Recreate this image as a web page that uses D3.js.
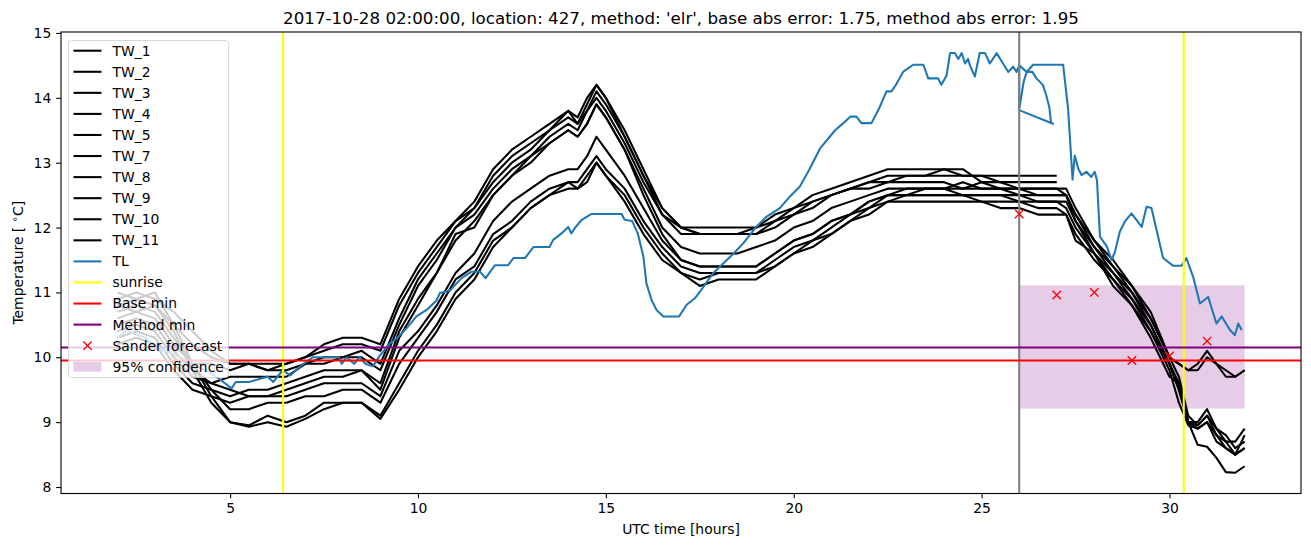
<!DOCTYPE html>
<html>
<head>
<meta charset="utf-8">
<script src="https://cdn.jsdelivr.net/npm/d3@7"></script>
<style>
  body { margin: 0; background: #fff; }
  text { font-family: "DejaVu Sans", sans-serif; }
</style>
</head>
<body>
<div id="chart"></div>
<script>
// ---- data ----
const hours = [2, 2.5, 3, 3.5, 4, 4.5, 5, 5.5, 6, 6.5, 7, 7.5, 8, 8.5, 9, 9.5, 10, 10.5, 11, 11.5,
  12, 12.5, 13, 13.5, 14, 14.25, 14.5, 14.75, 15, 15.5, 16, 16.5, 17, 17.5, 18, 18.5, 19, 19.5,
  20, 20.5, 21, 21.5, 22, 22.5, 23, 23.5, 24, 24.5, 25, 25.5, 26, 26.5, 27, 27.25, 27.5,
  28, 28.5, 29, 29.5, 30, 30.25, 30.5, 30.75, 31, 31.25, 31.5, 31.75, 32]

const tw1 = [10.9, 11.0, 10.9, 10.7, 10.4, 10.1, 9.9, 9.9, 9.9, 9.9, 10.0, 10.2, 10.3, 10.3, 10.2,
  10.9, 11.4, 11.8, 12.1, 12.4, 12.9, 13.2, 13.4, 13.6, 13.8, 13.7, 14.0, 14.2, 14.0,
  13.5, 12.9, 12.3, 12.0, 12.0, 12.0, 12.0, 12.0, 12.2, 12.3, 12.5, 12.6, 12.7, 12.8, 12.9,
  12.9, 12.9, 12.9, 12.8, 12.8, 12.8, 12.8, 12.8, 12.8]
const tw2 = [10.8, 10.9, 10.8, 10.5, 10.2, 10.0, 9.9, 9.9, 9.8, 9.9, 10.0, 10.1, 10.2, 10.2, 10.1,
  10.8, 11.3, 11.7, 12.1, 12.3, 12.8, 13.1, 13.3, 13.5, 13.8, 13.6, 13.9, 14.2, 14.0,
  13.4, 12.8, 12.3, 12.0, 11.9, 11.9, 11.9, 12.0, 12.1, 12.3, 12.4, 12.5, 12.6, 12.7, 12.8,
  12.8, 12.8, 12.9, 12.9, 12.7, 12.7, 12.7, 12.7, 12.7]
const tw3 = [10.6, 10.7, 10.6, 10.2, 9.9, 9.9, 9.8, 9.9, 9.8, 9.8, 9.9, 10.0, 10.0, 10.1, 9.9,
  10.6, 11.2, 11.6, 12.0, 12.3, 12.7, 13.0, 13.2, 13.5, 13.7, 13.6, 13.8, 14.1, 13.9,
  13.4, 12.8, 12.2, 12.0, 11.9, 11.9, 11.9, 11.9, 12.1, 12.2, 12.4, 12.5, 12.6, 12.7, 12.7,
  12.8, 12.8, 12.8, 12.8, 12.8, 12.7, 12.6, 12.6, 12.6, 12.6, 12.3,
  11.8, 11.5, 11.1, 10.7, 10.0, 9.9, 9.8, 9.9, 10.1, 9.9, 9.8, 9.7, 9.8]
const tw4 = [10.4, 10.5, 10.4, 10.0, 9.7, 9.6, 9.7, 9.7, 9.7, 9.7, 9.9, 9.9, 10.0, 10.0, 9.8,
  10.5, 11.1, 11.5, 12.0, 12.2, 12.6, 12.9, 13.1, 13.4, 13.6, 13.5, 13.8, 14.0, 13.8,
  13.3, 12.7, 12.2, 11.9, 11.9, 11.9, 11.9, 11.9, 12.0, 12.2, 12.3, 12.5, 12.6, 12.6, 12.7,
  12.7, 12.7, 12.7, 12.6, 12.7, 12.6, 12.6, 12.5, 12.5, 12.5, 12.2,
  11.8, 11.4, 11.0, 10.6, 10.0, 9.9, 9.8, 9.8, 10.0, 9.9, 9.7, 9.7, 9.8]
const tw5 = [10.3, 10.4, 10.3, 9.9, 9.6, 9.5, 9.4, 9.5, 9.5, 9.6, 9.7, 9.8, 9.8, 9.8, 9.6,
  10.4, 10.9, 11.3, 11.8, 12.1, 12.5, 12.8, 13.1, 13.3, 13.5, 13.4, 13.6, 13.9, 13.7,
  13.2, 12.6, 12.0, 11.7, 11.6, 11.6, 11.6, 11.7, 11.8, 12.0, 12.1, 12.3, 12.4, 12.5, 12.6,
  12.6, 12.6, 12.6, 12.6, 12.6, 12.6, 12.5, 12.5, 12.5, 12.5, 12.2,
  11.7, 11.4, 11.1, 10.6, 10.0, 9.7, 9.1, 8.95, 9.1, 8.9, 8.7, 8.7, 8.9]
const tw7 = [10.2, 10.3, 10.2, 9.8, 9.5, 9.4, 9.3, 9.4, 9.4, 9.5, 9.6, 9.7, 9.7, 9.8, 9.5,
  10.3, 10.8, 11.3, 11.9, 12.0, 12.5, 12.8, 13.0, 13.3, 13.5, 13.4, 13.6, 13.9, 13.7,
  13.2, 12.5, 11.9, 11.5, 11.4, 11.4, 11.4, 11.4, 11.6, 11.8, 11.9, 12.1, 12.2, 12.4, 12.5,
  12.6, 12.6, 12.6, 12.7, 12.6, 12.6, 12.6, 12.6, 12.6, 12.5, 12.1,
  11.7, 11.3, 11.0, 10.5, 9.9, 9.6, 9.0, 8.9, 9.0, 8.8, 8.6, 8.5, 8.6]
const tw8 = [10.5, 10.6, 10.5, 10.1, 9.8, 9.6, 9.5, 9.4, 9.4, 9.4, 9.5, 9.6, 9.6, 9.6, 9.4,
  10.1, 10.4, 10.8, 11.3, 11.6, 12.1, 12.4, 12.6, 12.8, 12.9, 12.9, 13.1, 13.4, 13.2,
  12.8, 12.3, 11.8, 11.5, 11.4, 11.4, 11.4, 11.4, 11.6, 11.8, 11.9, 12.1, 12.2, 12.4, 12.5,
  12.5, 12.5, 12.5, 12.5, 12.5, 12.5, 12.5, 12.4, 12.4, 12.4, 12.1,
  11.6, 11.3, 10.9, 10.5, 9.9, 9.5, 9.0, 9.0, 9.2, 8.9, 8.8, 8.6, 8.7]
const tw9 = [10.7, 10.8, 10.7, 10.3, 9.9, 9.5, 9.2, 9.2, 9.3, 9.3, 9.4, 9.4, 9.5, 9.5, 9.3,
  9.9, 10.3, 10.7, 11.2, 11.4, 11.9, 12.1, 12.4, 12.6, 12.7, 12.7, 12.9, 13.1, 12.9,
  12.6, 12.1, 11.7, 11.4, 11.3, 11.3, 11.3, 11.3, 11.5, 11.7, 11.8, 12.0, 12.2, 12.3, 12.5,
  12.5, 12.6, 12.6, 12.5, 12.5, 12.5, 12.4, 12.4, 12.4, 12.3, 12.0,
  11.6, 11.2, 10.9, 10.4, 9.9, 9.5, 9.0, 8.95, 9.1, 8.8, 8.7, 8.5, 8.6]
const tw10 = [11.0, 10.9, 11.0, 10.5, 9.9, 9.4, 9.0, 8.95, 9.1, 9.0, 9.1, 9.3, 9.3, 9.3, 9.1,
  9.6, 10.1, 10.5, 11.0, 11.3, 11.8, 12.0, 12.3, 12.5, 12.7, 12.6, 12.8, 13.0, 12.8,
  12.5, 12.0, 11.6, 11.3, 11.2, 11.3, 11.3, 11.3, 11.4, 11.6, 11.8, 11.9, 12.1, 12.3, 12.4,
  12.5, 12.5, 12.5, 12.5, 12.4, 12.4, 12.4, 12.3, 12.3, 12.2, 11.9,
  11.5, 11.2, 10.8, 10.4, 9.8, 9.3, 8.95, 8.9, 9.0, 8.7, 8.6, 8.5, 8.8]
const tw11 = [10.8, 10.7, 10.8, 10.4, 9.8, 9.3, 9.0, 8.93, 9.0, 8.93, 9.05, 9.2, 9.3, 9.3, 9.05,
  9.5, 10.0, 10.4, 10.9, 11.2, 11.7, 12.0, 12.3, 12.5, 12.6, 12.6, 12.7, 13.0, 12.8,
  12.4, 11.9, 11.5, 11.3, 11.1, 11.2, 11.2, 11.2, 11.4, 11.6, 11.7, 11.9, 12.1, 12.2, 12.4,
  12.4, 12.4, 12.4, 12.4, 12.4, 12.3, 12.3, 12.2, 12.2, 12.2, 11.8,
  11.6, 11.1, 10.8, 10.3, 9.7, 9.6, 9.0, 8.65, 8.62, 8.45, 8.23, 8.22, 8.32]

const twNames = ["TW_1", "TW_2", "TW_3", "TW_4", "TW_5", "TW_7", "TW_8", "TW_9", "TW_10", "TW_11"]
const twTemps = [tw1, tw2, tw3, tw4, tw5, tw7, tw8, tw9, tw10, tw11]

// TL is logged at its own times (the record folds back on itself just after 26 h)
const tlHours = [2, 2.25, 2.5, 2.75, 3, 3.5, 4, 4.5, 4.75, 5.04, 5.15, 5.5, 6, 6.15, 6.4, 6.6, 6.75,
  6.95, 7.2, 7.9, 7.97, 8.1, 8.3, 8.45, 8.6, 8.8, 8.99, 9.25, 9.45, 9.7, 9.96, 10.23, 10.5, 10.58,
  10.85, 11.16, 11.43, 11.65, 11.8, 12.05, 12.4, 12.54, 12.85, 13.07, 13.5, 13.6, 13.82, 14, 14.08,
  14.2, 14.36, 14.62, 15.42, 15.5, 15.7, 15.85, 16, 16.08, 16.22, 16.35, 16.53, 16.95, 17.15, 17.37,
  17.6, 17.86, 18.13, 18.4, 18.66, 19, 19.28, 19.63, 19.9, 20.16, 20.43, 20.7, 20.96, 21.1, 21.32,
  21.5, 21.67, 21.8, 22.07, 22.29, 22.47, 22.6, 22.74, 22.91, 23.18, 23.45, 23.58, 23.84, 23.93,
  24.07, 24.16, 24.29, 24.38, 24.47, 24.56, 24.64, 24.69, 24.82, 24.95, 25.09, 25.22, 25.4, 25.57,
  25.71, 25.84, 25.93, 26, 26, 26.9, 26.85, 26.8, 26.72, 26.63, 26.46, 26.35, 26.2, 26.12, 26.05,
  26, 26, 26.2, 26.37, 27.17, 27.3, 27.36, 27.42, 27.48, 27.57, 27.66, 27.79, 27.92, 28.01, 28.07,
  28.15, 28.33, 28.46, 28.55, 28.68, 28.81, 28.99, 29.12, 29.26, 29.39, 29.52, 29.83, 30.1, 30.32,
  30.45, 30.63, 30.81, 31.03, 31.25, 31.39, 31.61, 31.74, 31.83, 31.92]
const tlTemp = [10.3, 10.42, 10.35, 10.3, 10.15, 10.05, 9.9, 9.75, 9.65, 9.52, 9.62, 9.62, 9.7, 9.62, 9.8, 9.72, 9.8,
  9.9, 10.0, 10.0, 9.9, 10.0, 9.9, 10.0, 9.9, 9.86, 10.03, 10.21, 10.3, 10.45, 10.63, 10.73, 10.88, 10.99,
  11.03, 11.22, 11.32, 11.32, 11.22, 11.42, 11.42, 11.53, 11.53, 11.7, 11.7, 11.81, 11.91, 12.01, 11.91,
  12.01, 12.12, 12.21, 12.21, 12.12, 12.1, 11.91, 11.55, 11.14, 10.88, 10.73, 10.63, 10.63, 10.81, 10.91,
  11.09, 11.3, 11.45, 11.6, 11.76, 12.01, 12.17, 12.3, 12.48, 12.63, 12.91, 13.22, 13.4, 13.5, 13.61,
  13.71, 13.71, 13.61, 13.61, 13.86, 14.1, 14.1, 14.22, 14.4, 14.51, 14.51, 14.3, 14.3, 14.2,
  14.35, 14.69, 14.69, 14.6, 14.69, 14.53, 14.6, 14.5, 14.33, 14.69, 14.69, 14.53, 14.69, 14.53,
  14.4, 14.48, 14.4, 14.5, 13.81, 13.6, 13.61, 13.86, 14.04, 14.2, 14.3, 14.4, 14.4, 14.25, 14.0,
  13.81, 14.5, 14.4, 14.51, 14.51, 13.84, 13.3, 12.74, 13.11, 12.91, 12.81, 12.86, 12.78, 12.86, 12.73,
  11.86, 11.71, 11.5, 11.63, 11.94, 12.09, 12.22, 12.12, 12.01, 12.32, 12.3, 11.53, 11.41, 11.41,
  11.53, 11.24, 10.83, 10.93, 10.52, 10.63, 10.42, 10.34, 10.52, 10.42]

const sunriseHours = [6.41, 30.38]
const forecastStart = 26
const baseMin = 9.95
const methodMin = 10.15
const forecastHours = [26, 27, 28, 29, 30, 31]
const forecastTemp = [12.21, 10.96, 11.0, 9.95, 10.02, 10.25]
const confidenceHours = [26, 32]
const confidenceTemp = [9.21, 11.11]

const xTicks = [5, 10, 15, 20, 25, 30]
const yTicks = [8, 9, 10, 11, 12, 13, 14, 15]

const title = "2017-10-28 02:00:00, location: 427, method: 'elr', base abs error: 1.75, method abs error: 1.95"

// ---- layout ----
const width = 1311, height = 547
const margin = { top: 32, right: 10, bottom: 53.5, left: 61 }
const plotW = width - margin.left - margin.right
const plotH = height - margin.top - margin.bottom
const lw = 2.08   // 1.5pt lines
const fontSize = 13.9

const svg = d3.select("#chart").append("svg")
  .attr("width", width)
  .attr("height", height)

const g = svg.append("g")
  .attr("transform", "translate(" + margin.left + "," + margin.top + ")")

const x = d3.scaleLinear().domain([0.5, 33.5]).range([0, plotW])
const y = d3.scaleLinear().domain([7.9, 15.015]).range([plotH, 0])

const line = d3.line()
  .x(d => x(d[0]))
  .y(d => y(d[1]))

// confidence band sits below the lines
g.append("rect")
  .attr("x", x(confidenceHours[0]))
  .attr("width", x(confidenceHours[1]) - x(confidenceHours[0]))
  .attr("y", y(confidenceTemp[1]))
  .attr("height", y(confidenceTemp[0]) - y(confidenceTemp[1]))
  .attr("fill", "purple")
  .attr("fill-opacity", 0.2)

// TW series
g.selectAll(".tw")
  .data(twTemps)
  .enter().append("path")
  .attr("class", "tw")
  .attr("d", temps => line(temps.map((v, i) => [hours[i], v])))
  .attr("fill", "none")
  .attr("stroke", "black")
  .attr("stroke-width", lw)
  .attr("stroke-linejoin", "round")

// TL series
g.append("path")
  .attr("d", line(tlTemp.map((v, i) => [tlHours[i], v])))
  .attr("fill", "none")
  .attr("stroke", "#1f77b4")
  .attr("stroke-width", lw)
  .attr("stroke-linejoin", "round")

// vertical markers
g.append("line")
  .attr("x1", x(forecastStart)).attr("x2", x(forecastStart))
  .attr("y1", 0).attr("y2", plotH)
  .attr("stroke", "grey").attr("stroke-width", lw)

g.selectAll(".sunrise")
  .data(sunriseHours)
  .enter().append("line")
  .attr("class", "sunrise")
  .attr("x1", d => x(d)).attr("x2", d => x(d))
  .attr("y1", 0).attr("y2", plotH)
  .attr("stroke", "yellow").attr("stroke-width", lw)

// horizontal minima
g.append("line")
  .attr("x1", 0).attr("x2", plotW)
  .attr("y1", y(baseMin)).attr("y2", y(baseMin))
  .attr("stroke", "red").attr("stroke-width", lw)

g.append("line")
  .attr("x1", 0).attr("x2", plotW)
  .attr("y1", y(methodMin)).attr("y2", y(methodMin))
  .attr("stroke", "purple").attr("stroke-width", lw)

// forecast crosses
const cross = "M-4.2,-4.2L4.2,4.2M-4.2,4.2L4.2,-4.2"
g.selectAll(".fc")
  .data(forecastHours)
  .enter().append("path")
  .attr("class", "fc")
  .attr("transform", (d, i) => "translate(" + x(d) + "," + y(forecastTemp[i]) + ")")
  .attr("d", cross)
  .attr("stroke", "red")
  .attr("stroke-width", 1.4)

// axes
const xAxis = d3.axisBottom(x).tickValues(xTicks).tickSize(4.86).tickPadding(4.86).tickSizeOuter(0)
const yAxis = d3.axisLeft(y).tickValues(yTicks).tickSize(4.86).tickPadding(4.86).tickSizeOuter(0)

g.append("g")
  .attr("transform", "translate(0," + plotH + ")")
  .call(xAxis)
  .call(a => a.select(".domain").remove())
  .call(a => a.selectAll("line").attr("stroke-width", 1.1))
  .call(a => a.selectAll("text").style("font-size", fontSize + "px").attr("fill", "black"))

g.append("g")
  .call(yAxis)
  .call(a => a.select(".domain").remove())
  .call(a => a.selectAll("line").attr("stroke-width", 1.1))
  .call(a => a.selectAll("text").style("font-size", fontSize + "px").attr("fill", "black"))

// axes frame
g.append("rect")
  .attr("width", plotW).attr("height", plotH)
  .attr("fill", "none").attr("stroke", "black").attr("stroke-width", 1.1)

// title and labels
svg.append("text")
  .attr("x", margin.left + plotW / 2).attr("y", 24)
  .attr("text-anchor", "middle")
  .style("font-size", "16.7px")
  .text(title)

svg.append("text")
  .attr("x", margin.left + plotW / 2).attr("y", 534)
  .attr("text-anchor", "middle")
  .style("font-size", fontSize + "px")
  .text("UTC time [hours]")

const ylab = svg.append("text")
  .attr("transform", "translate(23," + (margin.top + plotH / 2) + ") rotate(-90)")
  .attr("text-anchor", "middle")
  .style("font-size", fontSize + "px")
ylab.append("tspan").text("Temperature [ ")
ylab.append("tspan").attr("dy", -5).style("font-size", "10px").text("\u2218")
ylab.append("tspan").attr("dy", 5).text("C]")

// ---- legend ----
const legendItems = twNames.map(n => ({ label: n, kind: "line", color: "black" }))
  .concat([
    { label: "TL", kind: "line", color: "#1f77b4" },
    { label: "sunrise", kind: "line", color: "yellow" },
    { label: "Base min", kind: "line", color: "red" },
    { label: "Method min", kind: "line", color: "purple" },
    { label: "Sander forecast", kind: "cross", color: "red" },
    { label: "95% confidence", kind: "patch", color: "purple" }
  ])

const legend = svg.append("g").attr("transform", "translate(68,40)")
legend.append("rect")
  .attr("x", 0.5).attr("y", 0.5)
  .attr("width", 160).attr("height", 337)
  .attr("rx", 3)
  .attr("fill", "white").attr("fill-opacity", 0.8)
  .attr("stroke", "#cccccc").attr("stroke-opacity", 0.8)

const rows = legend.selectAll(".row")
  .data(legendItems)
  .enter().append("g")
  .attr("class", "row")
  .attr("transform", (d, i) => "translate(0," + (10.7 + i * 21.07) + ")")

rows.filter(d => d.kind === "line").append("line")
  .attr("x1", 5.5).attr("x2", 33.5)
  .attr("stroke", d => d.color).attr("stroke-width", lw)

rows.filter(d => d.kind === "cross").append("path")
  .attr("transform", "translate(19.5,0)")
  .attr("d", cross)
  .attr("stroke", d => d.color).attr("stroke-width", 1.4)

rows.filter(d => d.kind === "patch").append("rect")
  .attr("x", 5.5).attr("y", -4.9).attr("width", 28).attr("height", 9.8)
  .attr("fill", d => d.color).attr("fill-opacity", 0.2)

rows.append("text")
  .attr("x", 44.5).attr("y", 4.9)
  .style("font-size", fontSize + "px")
  .text(d => d.label)
</script>
</body>
</html>
